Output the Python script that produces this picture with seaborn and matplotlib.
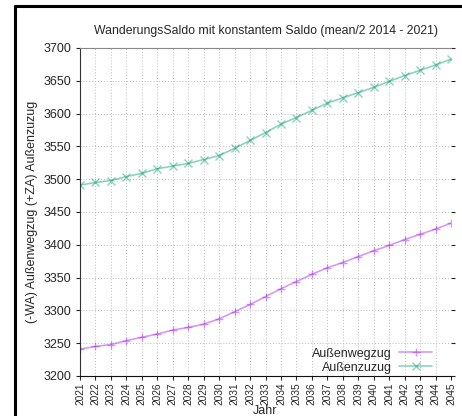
import numpy as np
import pandas as pd
import matplotlib
matplotlib.use("Agg")
import matplotlib.pyplot as plt
import seaborn as sns
from matplotlib.lines import Line2D

# Werte
jahre = list(range(2021, 2046))
wegzug = [3241, 3245, 3248, 3254, 3259, 3264, 3270, 3274, 3279, 3287,
          3298, 3309, 3321, 3333, 3344, 3355, 3365, 3373, 3382, 3391,
          3399, 3408, 3416, 3424, 3433]
zuzug = [3491, 3495, 3498, 3504, 3509, 3516, 3520, 3524, 3530, 3536,
         3547, 3559, 3571, 3584, 3594, 3605, 3616, 3624, 3632, 3640,
         3649, 3658, 3666, 3674, 3683]
serien = ["Außenwegzug", "Außenzuzug"]
farben = ["#a020f0", "#009e73"]
marker = ["+", "x"]

df = pd.DataFrame({
    "Jahr": jahre * 2,
    "Wert": wegzug + zuzug,
    "Serie": [serien[0]] * len(jahre) + [serien[1]] * len(jahre),
})

sns.set_style("ticks")
plt.rcParams["font.family"] = ["Liberation Sans", "DejaVu Sans"]

fig = plt.figure(figsize=(4.62, 4.16), dpi=100)
ax = fig.add_axes([80 / 462, 1 - 376 / 416, (451 - 80) / 462, (376 - 48) / 416])

for s, c, m in zip(serien, farben, marker):
    sns.lineplot(data=df[df["Serie"] == s], x="Jahr", y="Wert", color=c,
                 marker=m, markersize=6, markeredgewidth=1.0, markeredgecolor=c,
                 linewidth=1.2, alpha=0.45, label=s, ax=ax)

ax.set_xlim(2021, 2045)
ax.set_ylim(3200, 3700)
ax.set_xticks(jahre)
ax.set_xticklabels([str(j) for j in jahre], rotation=90, fontsize=7.3)
ax.set_yticks(np.arange(3200, 3701, 50))
ax.tick_params(axis="y", labelsize=9, right=True, length=3, width=0.8)
ax.tick_params(axis="x", length=3, width=0.8, pad=1.5)
ax.grid(True, linestyle=(0, (1, 2)), color="#bbbbbb", linewidth=0.7)
ax.spines["right"].set_visible(False)
ax.spines["top"].set_color("#888888")
ax.spines["left"].set_color("#333333")
ax.spines["bottom"].set_color("#111111")

ax.set_title("WanderungsSaldo mit konstantem Saldo (mean/2 2014 - 2021)",
             fontsize=8.8, pad=10)
ax.set_xlabel("Jahr", fontsize=9)
ax.xaxis.set_label_coords(0.5, -0.087)
ax.set_ylabel("(-WA) Außenwegzug (+ZA) Außenzuzug", fontsize=9, labelpad=4)

handles, labels = ax.get_legend_handles_labels()
leg = ax.legend(handles, labels, loc="lower right", frameon=False,
                markerfirst=False, fontsize=9, handlelength=2.6,
                borderaxespad=0, borderpad=0.2, labelspacing=0.15,
                handletextpad=0.6, bbox_to_anchor=(0.955, 0.0))
for t in leg.get_texts():
    t.set_ha("right")

# schwarzer Rahmen des Screenshots
fig.add_artist(Line2D([15 / 462, 15 / 462], [0, 1 - 6 / 416], color="black",
                      linewidth=2.2, transform=fig.transFigure))
fig.add_artist(Line2D([15 / 462, 1], [1 - 6 / 416, 1 - 6 / 416], color="black",
                      linewidth=2.2, transform=fig.transFigure))

fig.savefig("out.png", dpi=100)
